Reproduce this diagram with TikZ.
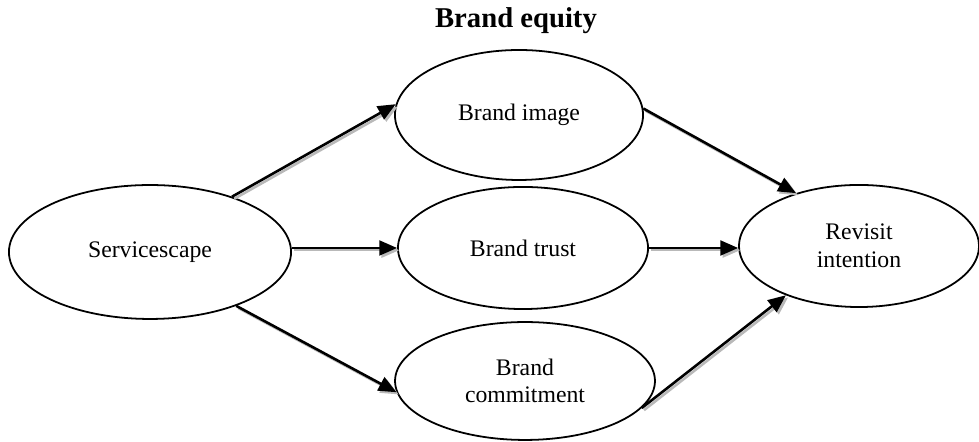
\documentclass[tikz,border=0pt,12pt]{standalone}
\usepackage{fontspec}
\setmainfont{Liberation Serif}
\usetikzlibrary{shapes.geometric,arrows.meta}

\begin{document}
\begin{tikzpicture}[x=0.5055pt,y=0.5055pt,
    construct/.style={ellipse,draw,line width=0.9pt,inner sep=0pt,align=center,font=\fontsize{12}{14}\selectfont},
    path/.style={line width=1.3pt,-{Triangle[length=9pt,width=7.5pt]},
      preaction={draw=gray!55,line width=1.3pt,-{Triangle[length=9pt,width=7.5pt]},
        transform canvas={xshift=1.1pt,yshift=-1.1pt}}}]
        \useasboundingbox (0,0) rectangle (979,442);
        % title
        \node[font=\fontsize{14.5}{16}\selectfont\bfseries] (equity) at (516,421) {Brand equity};
        % constructs
        \node[construct,minimum width=142.6pt,minimum height=67.7pt] (serv) at (150,190) {Servicescape};
        \node[construct,minimum width=125.4pt,minimum height=65.7pt] (image) at (519,327) {Brand image};
        \node[construct,minimum width=126.4pt,minimum height=61.7pt] (trust) at (523,194) {Brand trust};
        \node[construct,minimum width=131.4pt,minimum height=59.6pt] (commit) at (525,61) {Brand\\commitment};
        \node[construct,minimum width=121.3pt,minimum height=61.7pt] (revisit) at (859,196) {Revisit\\intention};
        % paths
        \draw[path] (serv.34) -- (image.175);
        \draw[path] (serv.east |- trust.west) -- (trust.west);
        \draw[path] (serv.-32) -- (commit.185);
        \draw[path] (image.3) -- (revisit.140);
        \draw[path] (trust.east) -- (trust.east -| revisit.west);
        \draw[path] (commit.-13) -- (revisit.214);
      \end{tikzpicture}
\end{document}
